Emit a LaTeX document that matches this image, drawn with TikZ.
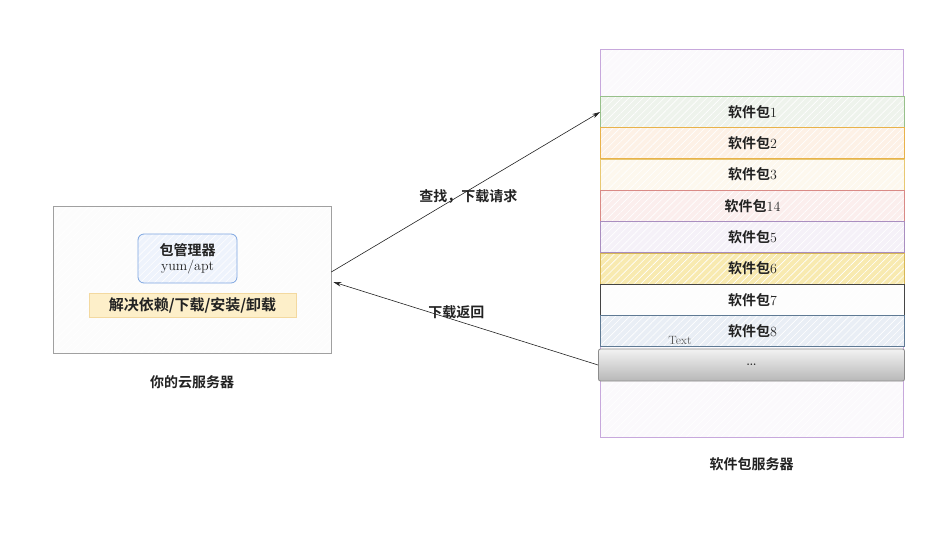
\documentclass[tikz,border=0pt]{standalone}
\usepackage{fontspec}
\newfontfamily\cjk{Noto Sans CJK SC}[BoldFont={Noto Sans CJK SC Bold}]
\usetikzlibrary{arrows.meta, patterns.meta, calc, positioning}

\definecolor{inkD}{HTML}{222222}
\definecolor{cloudD}{HTML}{A0A0A0}
\definecolor{cloudL}{HTML}{FCFCFC}
\definecolor{mgrD}{HTML}{7EA6E0}
\definecolor{mgrL}{HTML}{EEF3FC}
\definecolor{barD}{HTML}{F3D9A0}
\definecolor{barL}{HTML}{FDEFC9}
\definecolor{srvD}{HTML}{C7A8DC}
\definecolor{srvL}{HTML}{FBF9FC}
\definecolor{greenD}{HTML}{97C08A}
\definecolor{greenL}{HTML}{EEF3EC}
\definecolor{orangeD}{HTML}{E8B24A}
\definecolor{orangeL}{HTML}{FDF1E6}
\definecolor{amberD}{HTML}{E8C872}
\definecolor{amberL}{HTML}{FDF8EE}
\definecolor{redD}{HTML}{D98A86}
\definecolor{redL}{HTML}{FBEEED}
\definecolor{purpleD}{HTML}{A98EC0}
\definecolor{purpleL}{HTML}{F5F1F8}
\definecolor{yellowD}{HTML}{D6B656}
\definecolor{yellowL}{HTML}{F8EAB0}
\definecolor{darkD}{HTML}{444444}
\definecolor{darkL}{HTML}{FDFDFD}
\definecolor{blueD}{HTML}{5F7A94}
\definecolor{blueL}{HTML}{E9EEF5}

\begin{document}
\begin{tikzpicture}[
		x=1pt, y=-1pt,
		font=\rmfamily\fontsize{14}{16}\selectfont, text=inkD,
		% Boxes: plain fill, sketchy hatching on top, border last
		frame/.style 2 args={draw=#1, preaction={fill=#2}, line width=0.8pt, inner sep=2pt},
		hatch/.style={pattern={Lines[angle=45, distance=5pt, line width=0.6pt]}, pattern color=#1},
		row/.style 2 args={frame={#1}{#2}, hatch=white, minimum width=304pt, minimum height=31pt},
		% Arrows and texts
		arr/.style={draw=inkD, line width=0.6pt, -{Stealth[length=8pt, width=4.5pt]}},
		zh/.style={font=\cjk\bfseries\fontsize{14}{16}\selectfont},
		edge label/.style={font=\cjk\bfseries\fontsize{14}{16}\selectfont}
	]
	\useasboundingbox (0,0) rectangle (942,536);

	% ==============================================================================
	% LEFT: the cloud server with its package manager
	% ==============================================================================
	\node[frame={cloudD}{cloudL}, hatch=white, minimum width=278pt, minimum height=147pt] (cloud) at (192,279.5) {};
	\node[frame={mgrD}{mgrL}, hatch=white, rounded corners=6pt, minimum width=99pt, minimum height=49pt, align=center] (mgr) at (187.5,258.5)
		{{\cjk\bfseries 包管理器}\\[-1pt]yum/apt};
	\node[frame={barD}{barL}, line width=0.5pt, minimum width=207pt, minimum height=24pt, font=\cjk\bfseries\fontsize{15}{17}\selectfont] (tasks) at (192.5,305)
		{解决依赖/下载/安装/卸载};
	\node[zh, below=19pt of cloud] (cloudname) {你的云服务器};

	% ==============================================================================
	% RIGHT: the package server and its packages
	% ==============================================================================
	\node[frame={srvD}{srvL}, hatch=white, minimum width=303pt, minimum height=388pt] (srv) at (751.5,243) {};
	\node[zh, below=17pt of srv] (srvname) {软件包服务器};

	\foreach \i/\num/\bd/\bg in {1/1/greenD/greenL, 2/2/orangeD/orangeL, 3/3/amberD/amberL, 4/14/redD/redL,
			5/5/purpleD/purpleL, 6/6/yellowD/yellowL, 7/7/darkD/darkL, 8/8/blueD/blueL}
		\node[row={\bd}{\bg}] (p\i) at (752.5,{112+31.3*(\i-1)}) {{\cjk\bfseries 软件包}\num};

	\node[draw=black!45, line width=0.8pt, rounded corners=2pt, top color=black!5, bottom color=black!28,
		minimum width=306pt, minimum height=32pt, font=\rmfamily\normalsize\bfseries] (pmore) at (751.5,365) {...};
	\node[text=black!65, font=\rmfamily\fontsize{12}{14}\selectfont] (txt) at (680,340) {Text};

	% ==============================================================================
	% REQUEST AND DOWNLOAD
	% ==============================================================================
	\draw[arr] ($(cloud.east)+(0,-7.5)$) -- (p1.west)
		node[edge label, pos=0.51, yshift=-6pt] (reqlabel) {查找，下载请求};
	\draw[arr] (pmore.west) -- ($(cloud.east)+(2,2.5)$)
		node[edge label, pos=0.535, yshift=8pt] (retlabel) {下载返回};

\end{tikzpicture}
\end{document}
